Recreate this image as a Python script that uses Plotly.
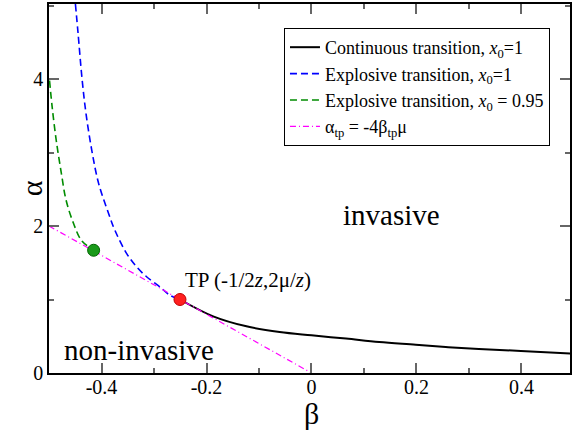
import plotly.graph_objects as go

# Continuous transition, x0=1 (black solid)
cont_beta = [-0.2505, -0.1873, -0.1239, -0.0607, 0.0, 0.0658, 0.129, 0.1987, 0.2556, 0.3188, 0.399, 0.4934, 0.5]
cont_alpha = [1.0, 0.771, 0.635, 0.558, 0.513, 0.468, 0.422, 0.386, 0.354, 0.327, 0.30, 0.264, 0.26]

# Explosive transition, x0=1 (blue dashed)
exp1_beta = [-0.4497, -0.4446, -0.437, -0.4295, -0.418, -0.4055, -0.3865, -0.3744, -0.352, -0.3326, -0.3136, -0.2884, -0.2695, -0.2505]
exp1_alpha = [5.02, 4.62, 4.0, 3.53, 3.01, 2.58, 2.17, 1.94, 1.625, 1.44, 1.306, 1.17, 1.057, 1.0]

# Explosive transition, x0=0.95 (green dashed)
exp095_beta = [-0.499, -0.494, -0.4863, -0.4763, -0.4674, -0.453, -0.4383, -0.415]
exp095_alpha = [3.98, 3.62, 3.17, 2.71, 2.35, 2.03, 1.805, 1.67]

# alpha_tp = -4 beta_tp mu (magenta dash-dot)
tp_beta = [-0.5, 0.0]
tp_alpha = [2.0, 0.0]

# special points
tp_point = ([-0.2505], [1.0])
green_point = ([-0.415], [1.67])

xticks = [-0.4, -0.2, 0, 0.2, 0.4]
xticklabels = ["-0.4", "-0.2", "0", "0.2", "0.4"]
yticks = [0, 2, 4]
yticklabels = ["0", "2", "4"]

FONT = "Liberation Serif"

fig = go.Figure()
fig.add_trace(go.Scatter(x=cont_beta, y=cont_alpha, mode="lines", line=dict(color="black", width=2, shape="spline"),
                         name="Continuous transition, <i>x</i><sub>0</sub>=1"))
fig.add_trace(go.Scatter(x=exp1_beta, y=exp1_alpha, mode="lines", line=dict(color="#0000ff", width=1.6, dash="7px,4px", shape="spline"),
                         name="Explosive transition, <i>x</i><sub>0</sub>=1"))
fig.add_trace(go.Scatter(x=exp095_beta, y=exp095_alpha, mode="lines", line=dict(color="#008c00", width=1.6, dash="7px,4px", shape="spline"),
                         name="Explosive transition, <i>x</i><sub>0</sub> = 0.95"))
fig.add_trace(go.Scatter(x=tp_beta, y=tp_alpha, mode="lines", line=dict(color="#ff00ff", width=1.2, dash="6px,3px,1px,3px"),
                         name="α<sub>tp</sub> = -4β<sub>tp</sub>μ"))
fig.add_trace(go.Scatter(x=green_point[0], y=green_point[1], mode="markers", showlegend=False,
                         marker=dict(color="#1a9a1a", size=12, line=dict(color="#006400", width=1))))
fig.add_trace(go.Scatter(x=tp_point[0], y=tp_point[1], mode="markers", showlegend=False,
                         marker=dict(color="#ff2020", size=12, line=dict(color="#c00000", width=1))))

axis_common = dict(showgrid=False, zeroline=False, showline=True, linecolor="black", linewidth=1.5,
                   ticks="inside", ticklen=10, tickwidth=1.5, tickcolor="#666666", mirror="ticks",
                   tickfont=dict(family=FONT, size=20, color="black"))

fig.update_xaxes(range=[-0.5, -0.5 + 523 / 527], tickvals=xticks, ticktext=xticklabels, ticklabelstandoff=-5,
                 minor=dict(ticks="inside", ticklen=5, tickwidth=1.5, tickcolor="#666666", dtick=0.1, tick0=0),
                 **axis_common)
fig.update_yaxes(range=[0, 369 / 73.5], tickvals=yticks, ticktext=yticklabels,
                 minor=dict(ticks="inside", ticklen=5, tickwidth=1.5, tickcolor="#666666", dtick=1, tick0=0),
                 **axis_common)

fig.add_annotation(text="invasive", x=0.1528, y=2.15, xref="x", yref="y", showarrow=False,
                   xanchor="center", yanchor="middle", font=dict(family=FONT, size=29, color="black"))
fig.add_annotation(text="non-invasive", x=-0.3283, y=0.31, xref="x", yref="y", showarrow=False,
                   xanchor="center", yanchor="middle", font=dict(family=FONT, size=29, color="black"))
fig.add_annotation(text="TP (-1/2<i>z</i>,2μ/<i>z</i>)", x=-0.2448, y=1.26, xref="x", yref="y", showarrow=False,
                   xanchor="left", yanchor="middle", font=dict(family=FONT, size=21, color="black"))
fig.add_annotation(text="β", x=0.0, y=-0.109, xref="x", yref="paper", showarrow=False,
                   xanchor="center", yanchor="middle", font=dict(family=FONT, size=30, color="black"))
fig.add_annotation(text="α", x=-0.033, y=0.50, xref="paper", yref="paper", showarrow=False, textangle=-90,
                   xanchor="center", yanchor="middle", font=dict(family=FONT, size=30, color="black"))

fig.update_layout(
    width=572, height=434,
    margin=dict(l=49, r=0, t=4, b=61),
    paper_bgcolor="white", plot_bgcolor="white",
    font=dict(family=FONT, color="black"),
    legend=dict(x=0.451, y=0.935, xanchor="left", yanchor="top",
                bgcolor="white", bordercolor="black", borderwidth=1,
                font=dict(family=FONT, size=18, color="black"), itemwidth=30, tracegroupgap=0),
    showlegend=True,
)

fig.write_html("out.html", config={"displayModeBar": False},
               post_script="document.body.style.margin='0';document.body.style.overflow='hidden';")
